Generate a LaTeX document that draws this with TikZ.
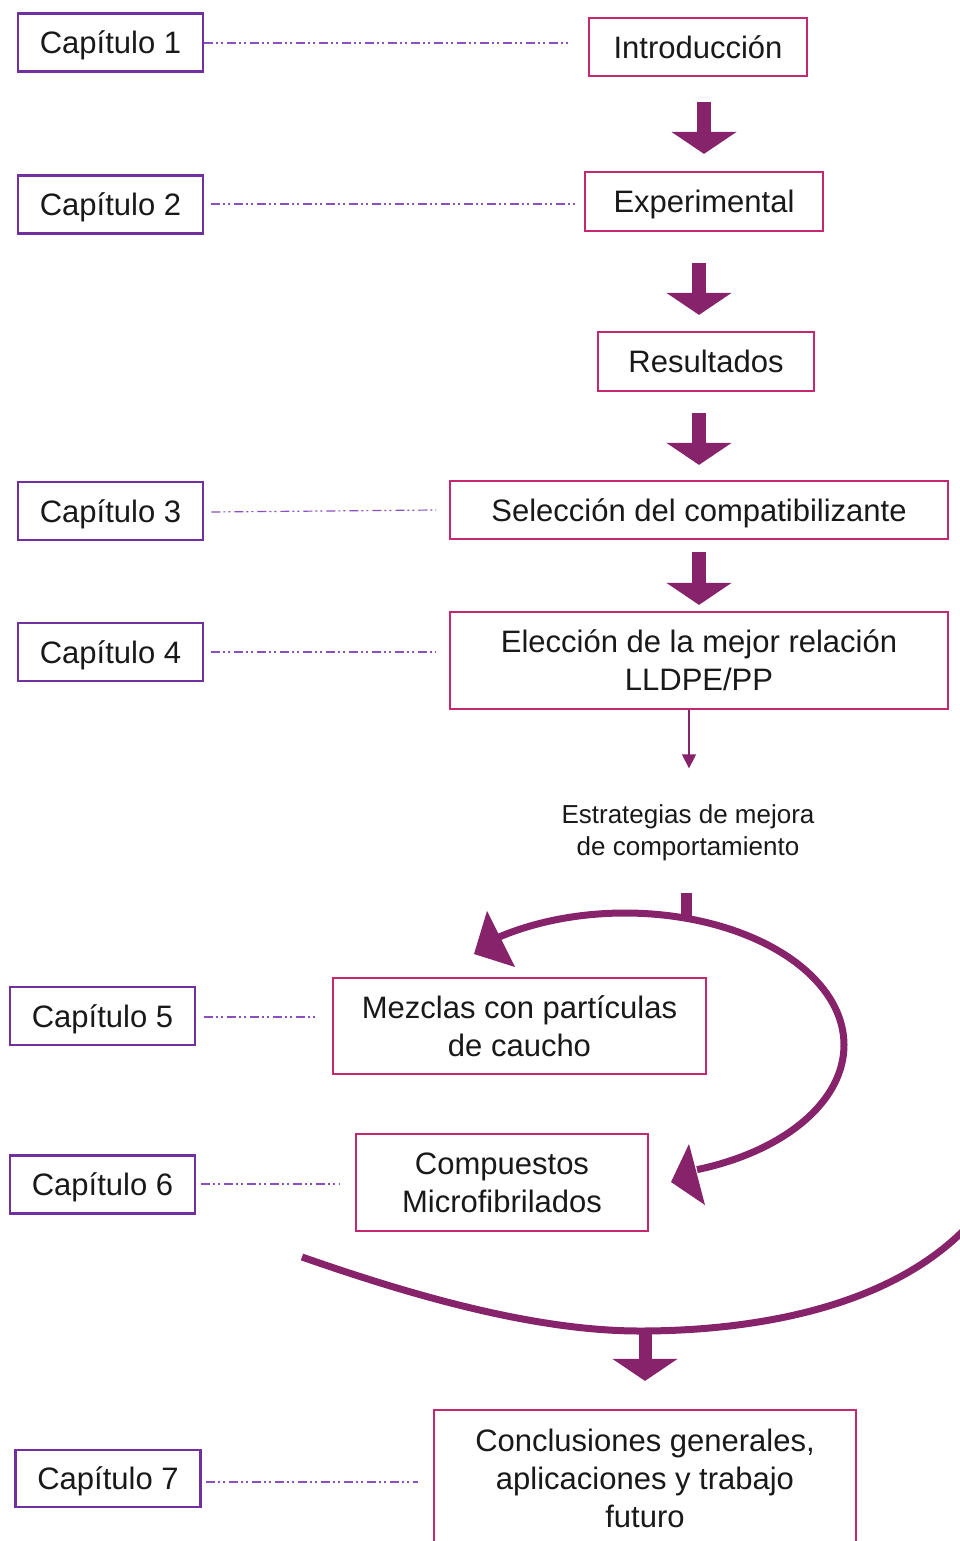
\documentclass[tikz,border=0pt]{standalone}
\usepackage{fontspec}
\setmainfont{Liberation Sans}
\usetikzlibrary{arrows.meta,calc}
\definecolor{chapc}{HTML}{7030A0}
\definecolor{flowc}{HTML}{C4286E}
\definecolor{arrc}{HTML}{86236B}
\definecolor{dashc}{HTML}{8A4FC0}
\tikzset{
  oneline/.style={text height=29pt, text depth=6.5pt},
  chap/.style={draw=chapc, line width=2.6pt, rectangle, inner sep=0pt, minimum width=185pt, minimum height=58pt, font=\fontsize{31}{38}\selectfont, text=black!90, oneline},
  flow/.style={draw=flowc, line width=2.2pt, rectangle, inner sep=0pt, align=center, font=\fontsize{31}{38}\selectfont, text=black!90},
  dashline/.style={draw=dashc, line width=1.2pt, dash pattern=on 9pt off 3pt on 2pt off 3pt on 2pt off 4pt},
  blk/.style={draw=arrc, line width=14pt, -{Triangle[length=22pt,width=64pt]}},
  thinarr/.style={draw=arrc, line width=1.4pt, -{Triangle[length=14pt,width=14pt]}},
  curve/.style={draw=arrc, line width=7pt},
  head/.style={fill=arrc},
}
\begin{document}
\begin{tikzpicture}[x=1pt,y=-1pt]
\useasboundingbox (0,0) rectangle (960,1541);
\clip (0,0) rectangle (960,1541);
\fill[white] (0,0) rectangle (960,1541);

% chapter boxes
\node[chap] (c1) at (110.5,42.5) {Capítulo 1};
\node[chap] (c2) at (110.5,204.5) {Capítulo 2};
\node[chap] (c3) at (110.5,511) {Capítulo 3};
\node[chap] (c4) at (110.5,652) {Capítulo 4};
\node[chap] (c5) at (102.5,1016) {Capítulo 5};
\node[chap] (c6) at (102.5,1184.5) {Capítulo 6};
\node[chap, minimum height=57pt] (c7) at (108,1478.5) {Capítulo 7};

% flow boxes
\node[flow, minimum width=218pt, minimum height=58pt] (intro) at (698,47) {Introducción};
\node[flow, oneline, minimum width=238pt, minimum height=59pt] (exp) at (704,201.5) {Experimental};
\node[flow, minimum width=216pt, minimum height=59pt] (res) at (706,361.5) {Resultados};
\node[flow, oneline, minimum width=498pt, minimum height=58pt] (sel) at (699,510) {Selección del compatibilizante};
\node[flow, minimum width=498pt, minimum height=97pt] (elec) at (699,660.5) {Elección de la mejor relación\\LLDPE/PP};
\node[flow, minimum width=373pt, minimum height=96pt] (mez) at (519.5,1026) {Mezclas con partículas\\de caucho};
\node[flow, minimum width=292pt, minimum height=97pt] (comp) at (502,1182.5) {Compuestos\\Microfibrilados};
\node[flow, minimum width=422pt, minimum height=136pt] (concl) at (645,1478) {Conclusiones generales,\\aplicaciones y trabajo\\futuro};

\node[align=center, font=\fontsize{26}{32}\selectfont, text=black!90] (estr) at (688,833) {Estrategias de mejora\\de comportamiento};

% dashed leaders
\coordinate (d1) at (570,43);
\coordinate (d2) at (575,204);
\coordinate (d3) at (436,510);
\coordinate (d4) at (436,652);
\coordinate (d5) at (315,1017);
\coordinate (d6) at (340,1184);
\coordinate (d7) at (418,1482);
\draw[dashline] (c1.east |- 0,43) -- (d1);
\draw[dashline] ($(c2.east |- 0,204)+(7,0)$) -- (d2);
\draw[dashline] ($(c3.east |- 0,512)+(7,0)$) -- (d3);
\draw[dashline] ($(c4.east |- 0,652)+(7,0)$) -- (d4);
\draw[dashline] ($(c5.east |- 0,1017)+(8,0)$) -- (d5);
\draw[dashline] ($(c6.east |- 0,1184)+(5,0)$) -- (d6);
\draw[dashline] ($(c7.east |- 0,1482)+(4,0)$) -- (d7);

% block arrows
\draw[blk] ($(intro.south)+(6,25)$) -- ($(exp.north)+(0,-17)$);
\draw[blk] ($(exp.south -| 699,0)+(0,31)$) -- ($(res.north -| 699,0)+(0,-16)$);
\draw[blk] ($(res.south -| 699,0)+(0,21)$) -- ($(sel.north)+(0,-15)$);
\draw[blk] ($(sel.south)+(0,12)$) -- ($(elec.north)+(0,-6)$);

% thin arrow
\draw[thinarr] (elec.south -| 689,0) -- ($(estr.north -| 689,0)+(0,-33)$);

% stub
\coordinate (stubtop) at (686.5,893);
\draw[draw=arrc, line width=11pt] (stubtop) -- (686.5,918);

% top curved double arrow (elliptic arc)
\draw[curve] plot[domain=-125.4:70.8, samples=120, smooth] ({625+219*cos(\x)},{1045+132*sin(\x)});
\fill[head] (487,911) -- (474,954) -- (515,967) -- cycle;
\fill[head] (689,1144) -- (671,1182) -- (705,1205) -- cycle;

% bottom curve
\draw[curve] (302,1257) .. controls (422,1299) and (540,1331) .. (640,1331)
                        .. controls (740,1331) and (885,1313) .. (968,1226);
\draw[draw=arrc, line width=13pt, -{Triangle[length=22pt,width=64pt]}] (645,1330) -- ($(concl.north -| 645,0)+(0,-28)$);
\end{tikzpicture}
\end{document}
